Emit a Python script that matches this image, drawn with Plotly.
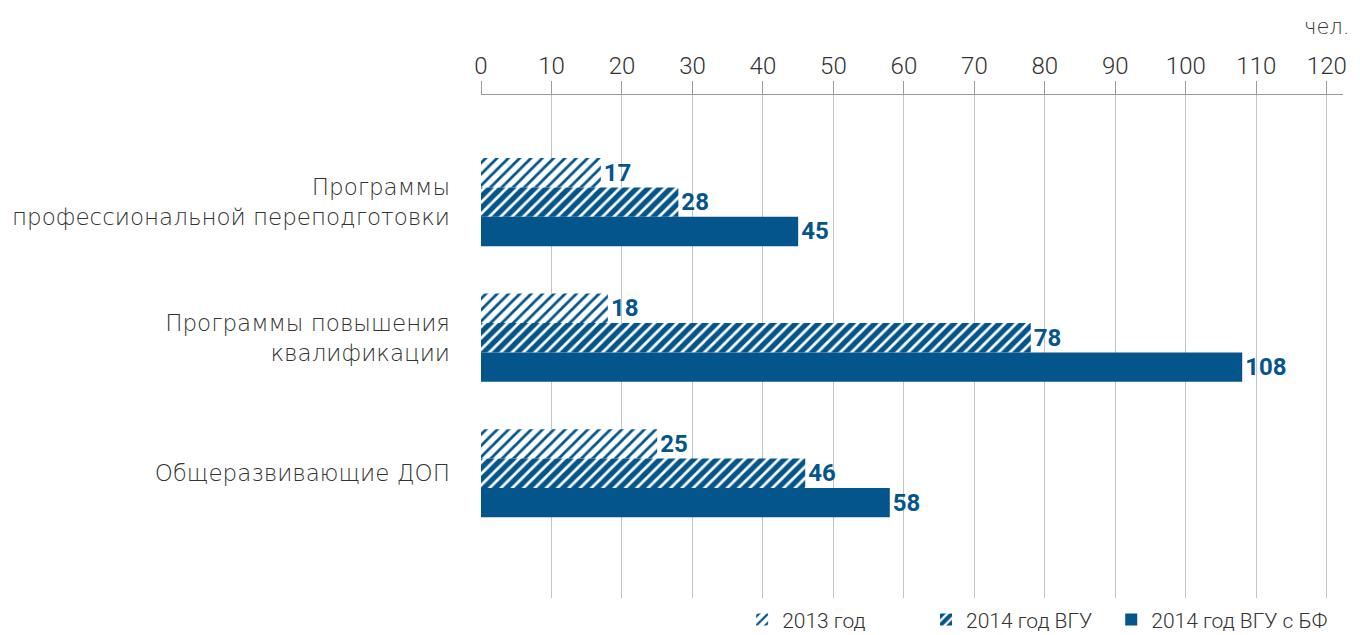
import plotly.graph_objects as go

# data
categories = ["Программы<br>профессиональной переподготовки",
              "Программы повышения<br>квалификации",
              "Общеразвивающие ДОП"]
series_names = ["2013 год", "2014 год ВГУ", "2014 год ВГУ с БФ"]
v2013 = [17, 18, 25]
v2014 = [28, 78, 46]
v2014bf = [45, 108, 58]
tick_values = [0, 10, 20, 30, 40, 50, 60, 70, 80, 90, 100, 110, 120]

blue = "#03558b"
txt = "#333333"

fig = go.Figure()

styles = [
    dict(shape="/", solidity=0.35, size=8),
    dict(shape="/", solidity=0.65, size=8),
    None,
]
legend_ids = ["legend", "legend2", "legend3"]
for name, vals, pat, lg in zip(series_names, [v2013, v2014, v2014bf], styles, legend_ids):
    marker = dict(color=blue if pat is None else "white", line=dict(width=0))
    if pat is not None:
        marker["pattern"] = dict(fgcolor=blue, bgcolor="white", fillmode="replace", **pat)
    fig.add_trace(go.Bar(
        name=name, y=categories, x=vals, orientation="h",
        marker=marker, legend=lg,
        text=[str(v) for v in vals], textposition="outside",
        textfont=dict(family="Roboto", size=24, color=blue, weight="bold"),
        cliponaxis=False,
    ))

# one legend per series so each entry sits where the original has it
leg_font = dict(family="Roboto", size=21, color=txt, weight=300)
leg_common = dict(orientation="h", xref="container", yref="container",
                  xanchor="left", y=0.024, yanchor="middle", font=leg_font)

# page body has an 8px margin, so the figure is a bit smaller than the window
fig.update_layout(
    width=1352, height=627,
    margin=dict(l=473, r=17, t=87, b=37),
    paper_bgcolor="white", plot_bgcolor="white",
    barmode="group", bargap=0.35, bargroupgap=0,
    font=dict(family="DejaVu Sans", color=txt, size=22),
    showlegend=True,
    legend=dict(x=0.543, **leg_common),
    legend2=dict(x=0.679, **leg_common),
    legend3=dict(x=0.816, **leg_common),
    xaxis=dict(side="top", range=[0, 122.3], tickvals=tick_values,
               showgrid=True, gridcolor="#c4c4c4", gridwidth=1,
               showline=True, linecolor="#9a9a9a", linewidth=1,
               ticks="outside", ticklen=13, tickcolor="#9a9a9a",
               ticklabelstandoff=-3, automargin=False,
               tickfont=dict(family="Roboto", size=24, color=txt, weight=300),
               zeroline=False),
    yaxis=dict(range=[2.92, -0.79], showgrid=False, showline=False,
               ticks="", ticklabelstandoff=30, automargin=False,
               tickfont=dict(family="DejaVu Sans", size=23, color=txt, weight=300)),
    annotations=[dict(text="чел.", xref="paper", yref="paper", x=1.0, y=1.0,
                      xshift=8, yshift=68, xanchor="right", yanchor="middle",
                      showarrow=False,
                      font=dict(family="DejaVu Sans", size=21, color=txt, weight=300))],
)

fig.write_html("out.html")
